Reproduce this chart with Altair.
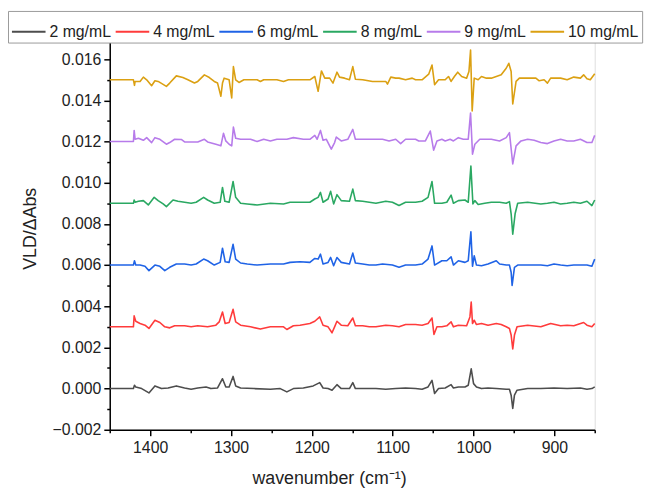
import altair as alt
import pandas as pd

# ---------------- data (deviations from each trace's baseline, in units of 1e-4) -------------
series_names = ["2 mg/mL", "4 mg/mL", "6 mg/mL", "8 mg/mL", "9 mg/mL", "10 mg/mL"]
offsets = [0.000, 0.003, 0.006, 0.009, 0.012, 0.015]
colors = ["#4d4d4d", "#ff3b3b", "#1f63e6", "#2aa862", "#b77bea", "#dba012"]

wn_2 = [1450, 1420.7, 1419.4, 1417.8, 1410.5, 1401.5, 1394.1, 1386.0, 1377.8, 1367.6, 1357.4, 1349.3,
        1341.1, 1330.9, 1324.8, 1316.6, 1310.5, 1306.4, 1302.3, 1297.4, 1294.2, 1288.1, 1271.7, 1251.3,
        1239.1, 1230.9, 1222.8, 1210.5, 1198.3, 1190.2, 1186.1, 1179.9, 1175.0, 1168.9, 1163.6, 1153.4,
        1149.3, 1146.1, 1137.1, 1120.7, 1108.5, 1096.2, 1084.0, 1071.7, 1063.6, 1056.2, 1051.3, 1048.1,
        1043.2, 1035.0, 1027.7, 1024.8, 1018.7, 1010.5, 1006.5, 1002.8, 999.9, 996.3, 990.1, 982.0,
        971.8, 959.5, 955.5, 953.4, 951.4, 949.3, 946.1, 933.0, 916.7, 900.4, 884.1, 867.7, 859.6,
        853.5, 850]
dv_2 = [0, 0, 1.6, 0.8, 0, -2.1, 1.3, 0, 0.3, 1.3, 0.3, -0.3,
        0.3, 0.8, 0, 0.3, 4.8, 0.8, 0.8, 5.9, 1.3, 0.3, 0, -0.3,
        0, -1.6, 0, 0.3, 1.3, 2.9, 0.3, 0, -0.8, 1.9, 0, 0,
        2.9, 0, 0, 0, -0.3, 0, 0.3, 0, -0.3, 0.8, 4.0, -2.4,
        0, 0.3, 1.9, 0.3, 0.8, 0.8, 1.6, 9.6, 2.4, 0.8, 0, 0.3,
        0, -0.3, -0.3, -3.2, -9.6, -3.2, -0.8, 0, 0, 0.3, 0, 0.3, -0.3,
        0, 0.8]

wn_4 = [1450, 1420.7, 1419.8, 1417.8, 1412.5, 1406.4, 1401.5, 1394.1, 1388.0, 1381.9, 1375.8, 1369.7,
        1357.4, 1349.3, 1341.1, 1328.9, 1318.7, 1314.6, 1310.5, 1307.2, 1302.3, 1297.4, 1294.2, 1288.1,
        1275.8, 1263.6, 1251.3, 1235.0, 1230.9, 1222.8, 1214.6, 1202.4, 1196.3, 1190.2, 1186.1, 1179.9,
        1175.0, 1171.8, 1168.9, 1163.6, 1155.5, 1149.3, 1146.1, 1137.1, 1128.9, 1120.7, 1108.5, 1100.3,
        1092.1, 1084.0, 1071.7, 1063.6, 1056.2, 1051.3, 1048.9, 1045.2, 1039.1, 1033.0, 1027.7, 1024.8,
        1018.7, 1008.5, 1004.4, 1002.8, 1001.2, 999.1, 996.3, 990.1, 982.0, 971.8, 965.7, 959.5,
        955.5, 953.4, 951.4, 949.3, 946.1, 933.0, 916.7, 904.5, 892.2, 884.1, 875.9, 863.7, 859.6,
        853.5, 850]
dv_4 = [0, 0, 5.3, 2.7, 1.6, 0.8, -0.8, 3.2, 2.1, 0, -0.5, 0.5,
        0.5, 0, 0.5, 0, 0.8, 2.4, 7.2, 1.6, 2.1, 8.5, 2.4, 0.8,
        0, -1.1, 0, 0, -1.3, 0.5, 0.8, 1.6, 2.7, 4.8, 0.8, 0,
        -2.9, 0, 2.7, 0.8, 0.5, 4.3, 0.5, 0.5, 0, 0, 0.8, 0.5,
        0, 1.1, 1.1, 0.8, 1.6, 4.3, -3.7, 0, 0, 0.5, 2.4, 0,
        0.8, 0.5, 4.8, 12.0, 1.6, 3.2, 1.1, 1.6, 0.8, 1.6, 1.1, 0,
        -0.8, -4.0, -10.7, -4.0, 0, 0.8, 0, 1.6, 0.5, 0.8, 0.5, 2.1, 0.8,
        0, 1.6]

wn_6 = [1450, 1420.7, 1419.4, 1417.8, 1412.5, 1406.4, 1401.5, 1394.1, 1388.0, 1381.9, 1375.8, 1367.6,
        1357.4, 1349.3, 1343.1, 1333.8, 1328.9, 1320.7, 1313.4, 1310.5, 1307.2, 1302.3, 1297.4, 1294.2,
        1288.1, 1279.9, 1267.7, 1251.3, 1235.0, 1226.9, 1214.6, 1202.4, 1196.3, 1192.2, 1189.3, 1186.1,
        1179.9, 1176.7, 1173.0, 1168.9, 1163.6, 1153.4, 1149.3, 1146.1, 1137.1, 1128.9, 1120.7, 1112.5,
        1100.3, 1092.1, 1084.0, 1071.7, 1063.6, 1056.2, 1051.3, 1048.1, 1039.1, 1033.0, 1027.7, 1024.8,
        1018.7, 1010.5, 1006.5, 1003.2, 1001.2, 999.1, 996.3, 990.1, 982.0, 971.8, 967.7, 959.5,
        955.5, 953.4, 952.2, 949.3, 945.3, 933.0, 916.7, 908.5, 900.4, 892.2, 884.1, 875.9, 867.7,
        859.6, 853.5, 850]
dv_6 = [0, 0, 2.1, 0, 0, -0.6, -2.7, 0, -0.6, -2.7, -1.1, 0.5,
        0.5, 0, 0.5, 2.9, 2.1, 0, 1.3, 8.2, 1.6, 1.3, 10.1, 2.9,
        1.0, 0.5, 0, 0.5, 0.5, 1.3, 1.6, 1.3, 3.2, 2.9, 5.3, 0.5,
        1.3, 3.7, -0.3, 3.7, 1.3, 0.5, 5.8, 1.0, 0.5, 0, 0, 0.5,
        0, -1.1, 0, 0, 0.5, 2.9, 9.3, 0, 2.1, 2.1, 4.0, 0,
        2.1, 1.3, 2.1, 16.2, -0.6, 4.5, 0, -0.3, 0.5, 2.1, 0.5, 0,
        0, -3.5, -9.9, -1.1, 0, 0, 0, -0.3, 0.5, 0, -0.3, 0, 0,
        0, -0.6, 2.9]

wn_8 = [1450, 1420.7, 1419.8, 1418.6, 1414.5, 1408.4, 1402.3, 1395.0, 1390.1, 1383.9, 1379.9, 1371.7,
        1365.6, 1357.4, 1349.3, 1343.1, 1333.8, 1328.9, 1320.7, 1313.4, 1310.5, 1307.6, 1302.3, 1297.4,
        1294.2, 1288.1, 1279.9, 1267.7, 1251.3, 1235.0, 1226.9, 1214.6, 1202.4, 1196.3, 1192.2, 1189.3,
        1186.1, 1179.9, 1176.7, 1173.0, 1168.9, 1163.6, 1153.4, 1149.3, 1146.1, 1137.1, 1128.9, 1120.7,
        1108.5, 1100.3, 1092.1, 1084.0, 1071.7, 1063.6, 1056.2, 1051.3, 1048.1, 1039.1, 1033.0, 1027.7,
        1024.8, 1018.7, 1010.5, 1006.5, 1003.2, 1000.7, 998.3, 994.2, 986.1, 977.9, 967.7, 959.5,
        955.5, 953.4, 951.4, 948.5, 945.3, 933.0, 916.7, 908.5, 900.4, 892.2, 884.1, 875.9, 867.7,
        859.6, 853.5, 850]
dv_8 = [0, 0, 1.6, 0.5, 1.0, 1.3, -0.8, 2.9, 1.3, -0.3, -1.6, 1.6,
        1.0, 0.5, 0, 0.5, 2.9, 1.6, 0, 0.5, 7.7, 1.0, 0.5, 10.6,
        2.9, 0, -0.3, -0.8, 0, -0.3, 0.5, 0.5, 0.5, 2.1, 2.9, 5.3,
        0.5, 2.1, 5.8, -0.3, 4.2, 1.3, 1.0, 6.9, 1.3, 1.0, 0.5, 0,
        1.0, 0.5, -1.1, 0.5, 0.5, 1.0, 2.9, 10.6, 0, 0, 0.5, 4.0,
        0, 1.3, 1.6, 0.5, 18.1, -0.3, 1.3, -0.6, 0, 0.5, 0.5, 0,
        0.8, -5.1, -15.0, -5.1, 0, 0.5, -0.3, 0, 0.5, -0.3, 0, 0.5, 0,
        1.0, -1.1, 1.6]

wn_9 = [1450, 1420.7, 1419.8, 1418.6, 1414.5, 1408.4, 1404.3, 1398.2, 1394.1, 1388.0, 1379.9, 1375.8,
        1369.7, 1361.5, 1357.4, 1341.1, 1332.9, 1328.9, 1318.7, 1312.5, 1309.3, 1306.4, 1302.3, 1299.1,
        1297.0, 1294.2, 1288.1, 1275.8, 1267.7, 1259.5, 1251.3, 1243.2, 1230.9, 1222.8, 1210.5, 1202.4,
        1196.3, 1193.4, 1189.3, 1186.1, 1182.0, 1175.9, 1171.8, 1169.7, 1163.6, 1155.5, 1149.3, 1146.1,
        1137.1, 1124.9, 1112.5, 1104.4, 1096.2, 1090.1, 1084.0, 1071.7, 1067.7, 1059.5, 1053.4, 1049.3,
        1045.2, 1039.1, 1035.0, 1028.9, 1024.8, 1018.7, 1012.6, 1006.5, 1003.6, 1001.2, 998.3, 992.2,
        986.1, 977.9, 967.7, 959.5, 955.5, 951.4, 947.3, 941.2, 933.0, 924.9, 916.7, 908.5, 900.4,
        892.2, 884.1, 875.9, 867.7, 859.6, 853.5, 850]
dv_9 = [0, 0, 5.4, 1.1, 1.6, 0.6, 1.9, -0.5, 1.9, 1.1, -1.3, -0.5,
        1.1, 1.0, -0.2, -0.2, 1.1, -0.2, -1.3, -2.1, 4.0, 0.3, -1.3, -2.1,
        7.0, 1.6, 1.1, 1.1, 0, 1.1, 0.3, 1.1, 1.1, 1.9, 1.1, 1.1,
        3.0, 1.1, 5.4, 0.6, 1.1, -3.7, -0.5, 2.2, 0.3, 1.1, 5.9, 1.1,
        1.1, 1.1, 1.1, 0.3, 1.1, -1.0, 1.1, 1.1, 0.3, 0.3, 5.1, -4.2,
        0.3, 1.1, 0.3, 1.1, 0.3, 1.9, 1.1, 1.1, 13.9, -6.1, -1.3, 1.1,
        1.1, 1.1, 0.3, 1.9, 4.3, -10.9, -2.1, 0.3, 1.1, 0.6, -0.5, -1.0, 0.3,
        1.1, 0.3, 0.3, 1.1, -0.5, -0.5, 3.0]

wn_10 = [1450, 1420.7, 1419.4, 1418.6, 1412.5, 1408.4, 1404.3, 1398.2, 1394.1, 1390.1, 1379.9, 1375.8,
         1367.6, 1359.5, 1353.3, 1345.2, 1341.1, 1332.9, 1326.8, 1320.7, 1316.6, 1312.5, 1310.5, 1308.5,
         1302.3, 1299.1, 1297.0, 1294.2, 1290.1, 1284.0, 1267.7, 1263.6, 1259.5, 1243.2, 1235.0, 1228.9,
         1202.4, 1196.3, 1192.2, 1188.1, 1184.0, 1177.9, 1173.8, 1168.9, 1165.7, 1159.5, 1153.4, 1149.3,
         1146.1, 1137.1, 1124.9, 1108.5, 1106.4, 1102.3, 1096.2, 1092.1, 1084.0, 1075.8, 1071.7, 1063.6,
         1055.4, 1051.3, 1048.1, 1043.2, 1035.0, 1030.9, 1027.7, 1023.6, 1019.5, 1014.6, 1008.5, 1005.6,
         1003.6, 1001.6, 999.1, 994.2, 990.1, 984.0, 977.9, 965.7, 959.5, 956.3, 953.4, 951.4, 947.3,
         943.2, 933.0, 922.8, 918.7, 912.6, 908.5, 904.5, 892.2, 884.1, 875.9, 867.7, 863.7, 859.6,
         855.5, 850]
dv_10 = [0, 0, -2.7, -0.8, -0.8, 1.3, 0, -2.9, -0.5, -0.8, -3.2, -1.6,
         1.9, 1.1, 0, -1.6, -0.8, 2.4, 1.1, -0.8, -1.6, -8.0, -1.6, 0.8,
         0, -8.8, 6.4, 0, -1.3, 0, 0, -0.8, 0, 0, -0.8, 0,
         0, 1.6, -5.6, 4.3, 0.8, 0.8, -1.6, 3.7, 1.3, 0.8, 0, 6.4,
         0.3, 0, -0.8, -0.8, -2.1, 1.3, 0.8, 0.8, 0, 0.8, 0, 0,
         2.7, 7.2, -2.4, 0, 0, 1.6, -0.8, 1.6, 3.7, 1.6, 0.8, 4.0,
         14.4, -15.2, 0.8, 0, 1.6, 0.8, 0.8, 2.4, 5.6, 8.0, 4.0, -11.7, -0.8,
         0.8, 0.8, 0.8, -0.5, 0, -1.6, 0.8, 0.8, 0, 1.3, 0.8, 2.4, 0.5,
         0, 2.9]

x_major = [1400, 1300, 1200, 1100, 1000, 900]
x_minor = [1450, 1350, 1250, 1150, 1050, 950, 850]
y_major = [-0.002, 0.000, 0.002, 0.004, 0.006, 0.008, 0.010, 0.012, 0.014, 0.016]
y_minor = [-0.001, 0.001, 0.003, 0.005, 0.007, 0.009, 0.011, 0.013, 0.015, 0.017]

# ---------------- build table ----------------
all_wn = [wn_2, wn_4, wn_6, wn_8, wn_9, wn_10]
all_dv = [dv_2, dv_4, dv_6, dv_8, dv_9, dv_10]
rows = []
for name, off, wns, dvs in zip(series_names, offsets, all_wn, all_dv):
    for i, (w, d) in enumerate(zip(wns, dvs)):
        rows.append({"series": name, "wn": w, "val": off + d * 1e-4, "order": i})
df = pd.DataFrame(rows)

FONT = "Liberation Sans"
xscale = alt.Scale(domain=[1450, 850], nice=False, zero=False)
yscale = alt.Scale(domain=[-0.002, 0.017], nice=False, zero=False)

lines = alt.Chart(df).mark_line(strokeWidth=1.6, strokeJoin="round").encode(
    x=alt.X("wn:Q", scale=xscale,
            axis=alt.Axis(values=x_major, format="d", title="wavenumber (cm⁻¹)", orient="bottom",
                          labelFontSize=16, titleFontSize=18, labelFont=FONT, titleFont=FONT,
                          titleFontWeight="normal", tickSize=6, domainWidth=1.5, tickWidth=1.5,
                          domainColor="black", tickColor="black", labelColor="#222",
                          titleColor="#222", labelPadding=4, grid=False,
                          titleX=222, titleY=49, titleBaseline="middle", titleAnchor="middle")),
    y=alt.Y("val:Q", scale=yscale,
            axis=alt.Axis(values=y_major, format=".3f", title="VLD/ΔAbs", orient="left",
                          labelFontSize=16, titleFontSize=18, labelFont=FONT, titleFont=FONT,
                          titleFontWeight="normal", tickSize=6, domainWidth=1.5, tickWidth=1.5,
                          domainColor="black", tickColor="black", labelColor="#222",
                          titleColor="#222", labelPadding=3, grid=False,
                          titleX=-80, titleY=192, titleBaseline="middle", titleAngle=-90)),
    color=alt.Color("series:N", sort=series_names,
                    scale=alt.Scale(domain=series_names, range=colors),
                    legend=alt.Legend(orient="none", legendX=-103, legendY=-28,
                                      direction="horizontal", columns=6, title=None,
                                      symbolType="stroke", symbolSize=1156, symbolStrokeWidth=2,
                                      labelFontSize=16, labelFont=FONT, labelColor="#222",
                                      labelOffset=3, columnPadding=0, padding=3,
                                      strokeColor="#999", fillColor="white", labelLimit=200)),
    order="order:Q",
)

minor = alt.Chart(df).mark_line(opacity=0).encode(
    x=alt.X("wn:Q", scale=xscale,
            axis=alt.Axis(values=x_minor, labels=False, title=None, orient="bottom",
                          tickSize=3, tickWidth=1.5, tickColor="black", domain=False, grid=False)),
    y=alt.Y("val:Q", scale=yscale,
            axis=alt.Axis(values=y_minor, labels=False, title=None, orient="left",
                          tickSize=3, tickWidth=1.5, tickColor="black", domain=False, grid=False)),
    detail="series:N",
)

chart = alt.layer(lines, minor).resolve_axis(x="independent", y="independent").properties(
    width=491, height=396,
    autosize=alt.AutoSizeParams(type="none"),
    padding={"left": 103, "top": 28, "right": 59, "bottom": 58},
).configure_view(stroke=None).configure(background="white")

chart.save("out.html", embed_options={"renderer": "svg", "actions": False})
